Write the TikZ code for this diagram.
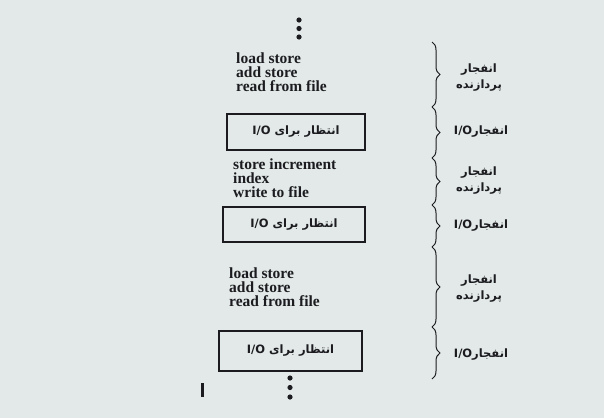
\documentclass[tikz,border=0pt]{standalone}
\usepackage{fontspec}
\setmainfont{Liberation Serif}
\newfontfamily\farsifont[Script=Arabic]{DejaVu Sans}
\TeXXeTstate=1
\usetikzlibrary{decorations.pathreplacing}
\definecolor{screen}{RGB}{226,233,232}
\definecolor{ink}{RGB}{28,28,32}

\begin{document}
\begin{tikzpicture}[x = 1pt, y = -1pt,
    codetext/.style = {anchor = west, align = left, inner sep = 0pt, text = ink,
        font = \fontsize{15.5}{14}\selectfont\bfseries},
    waitbox/.style = {draw = ink, line width = 1.3pt, inner sep = 0pt, text = ink,
        font = \farsifont\fontsize{11.5}{12}\selectfont\bfseries},
    burstlabel/.style = {align = center, inner sep = 0pt, text = ink,
        font = \farsifont\fontsize{11.5}{16}\selectfont\bfseries},
    burstbrace/.style = {draw = ink, line width = 1pt, decorate,
        decoration = {brace, amplitude = 8pt}}]
    \fill[screen] (0,0) rectangle (604,418);
    \useasboundingbox (0,0) rectangle (604,418);
    % dots above and below
    \foreach \y in {20,28.5,37}
        \fill[ink] (299,\y) circle (2.6);
    \foreach \y in {378,387.5,397}
        \fill[ink] (290,\y) circle (2.6);
    \fill[ink] (200.5,383) rectangle (203.5,397);
    % code and waits
    \node[codetext] (A1) at (236,72) {load store\\add store\\read from file};
    \node[waitbox, minimum width = 138, minimum height = 36] (W1) at (296,132)
        {\beginR انتظار برای \beginL I/O\endL\endR};
    \node[codetext] (A2) at (233,178) {store increment\\index\\write to file};
    \node[waitbox, minimum width = 142, minimum height = 35] (W2) at (294,224.5)
        {\beginR انتظار برای \beginL I/O\endL\endR};
    \node[codetext] (A3) at (229,287) {load store\\add store\\read from file};
    \node[waitbox, minimum width = 143, minimum height = 40] (W3) at (290.5,351)
        {\beginR انتظار برای \beginL I/O\endL\endR};
    % braces
    \coordinate (B0) at (432,42);
    \coordinate (B1) at (432,107);
    \coordinate (B2) at (432,158);
    \coordinate (B3) at (432,205);
    \coordinate (B4) at (432,247);
    \coordinate (B5) at (432,327);
    \coordinate (B6) at (432,379);
    \draw[burstbrace] (B0) -- (B1);
    \draw[burstbrace] (B1) -- (B2);
    \draw[burstbrace] (B2) -- (B3);
    \draw[burstbrace] (B3) -- (B4);
    \draw[burstbrace] (B4) -- (B5);
    \draw[burstbrace] (B5) -- (B6);
    % labels
    \node[burstlabel] (C1) at (479,78) {\beginR انفجار\endR\\\beginR پردازنده\endR};
    \node[burstlabel] (O1) at (481,132) {\beginR انفجار\beginL I/O\endL\endR};
    \node[burstlabel] (C2) at (479,181) {\beginR انفجار\endR\\\beginR پردازنده\endR};
    \node[burstlabel] (O2) at (481,226) {\beginR انفجار\beginL I/O\endL\endR};
    \node[burstlabel] (C3) at (479,289) {\beginR انفجار\endR\\\beginR پردازنده\endR};
    \node[burstlabel] (O3) at (481,355) {\beginR انفجار\beginL I/O\endL\endR};
\end{tikzpicture}
\end{document}
